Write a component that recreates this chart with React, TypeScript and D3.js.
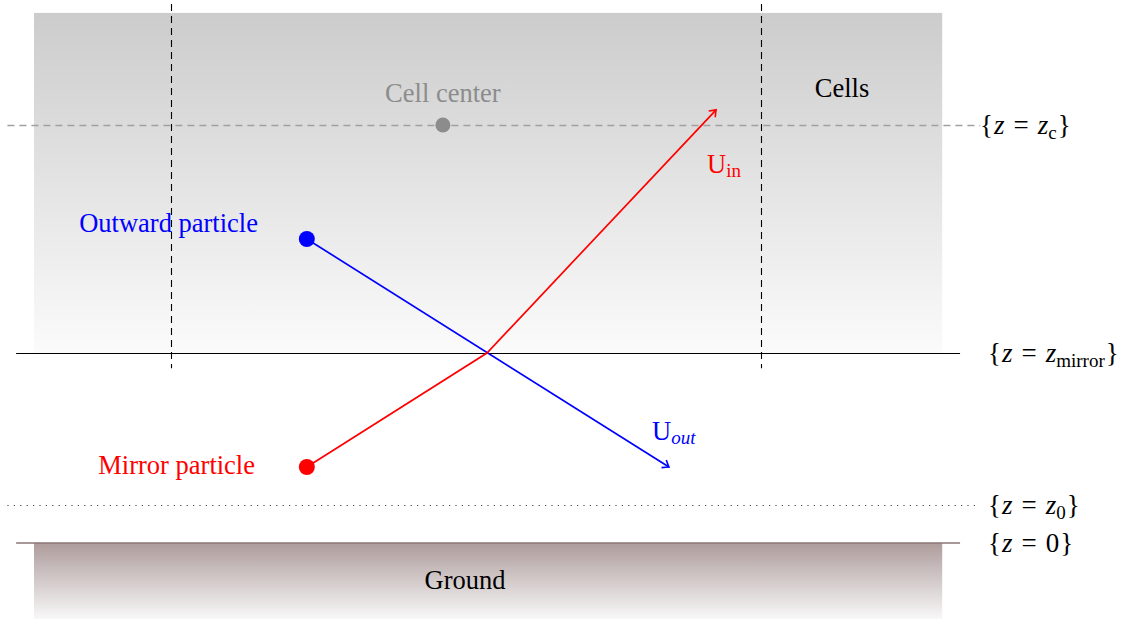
import { useEffect } from 'react';
import * as d3 from 'd3';

// Diagram coordinates: x and z in diagram units (z = height above ground)
const LEVELS = [
  { key: 'zc', z: 11, sub: 'c', text: 'z', labelX: 980 },
  { key: 'mirror', z: 5, sub: 'mirror', text: 'z', labelX: 988 },
  { key: 'z0', z: 1, sub: '0', text: 'z', labelX: 988 },
  { key: 'ground', z: 0, sub: '', text: '0', labelX: 988 },
];
const CELL_BOX = { x0: 0, x1: 23.9, z0: 5, z1: 13.95 };
const GROUND_BOX = { x0: 0, x1: 23.9, z0: 0, z1: -2 };
const CELL_WALLS = [3.605, 19.13];
const CELL_CENTER = { x: 10.76, z: 11 };
const OUTWARD = { x: 7.18, z: 8 };
const MIRROR = { x: 7.18, z: 2 };
const HIT = { x: 11.92, z: 5 };
const U_IN_END = { x: 17.95, z: 11.4 };
const U_OUT_END = { x: 16.71, z: 2 };

const W = 1131;
const H = 619;

const x = d3.scaleLinear().domain([0, 1]).range([34, 72]);
const y = d3.scaleLinear().domain([0, 1]).range([543, 505]);

const FONT = '"Liberation Serif", "DejaVu Serif", serif';
const FS = 26.5;

export default function App() {
  useEffect(() => {
    document.body.style.margin = '0';
  }, []);

  const lineStart = -0.47;
  const lineEnd = 24.37;

  return (
    <svg width={W} height={H} style={{ display: 'block', fontFamily: FONT }}>
      <defs>
        <linearGradient id="cells" x1="0" y1="0" x2="0" y2="1">
          <stop offset="0%" stopColor="#cccccc" />
          <stop offset="100%" stopColor="#fbfbfb" />
        </linearGradient>
        <linearGradient id="ground" x1="0" y1="0" x2="0" y2="1">
          <stop offset="0%" stopColor="#ae9c9c" />
          <stop offset="100%" stopColor="#f8f8f8" />
        </linearGradient>
        <marker id="arrRed" viewBox="-8 -6 10 12" markerWidth="10" markerHeight="12" refX="0" refY="0"
          orient="auto" markerUnits="userSpaceOnUse">
          <path d="M-6,-4.5 Q-2,-1.2 0,0 Q-2,1.2 -6,4.5" fill="none" stroke="#ff0000" strokeWidth="1.6" />
        </marker>
        <marker id="arrBlue" viewBox="-8 -6 10 12" markerWidth="10" markerHeight="12" refX="0" refY="0"
          orient="auto" markerUnits="userSpaceOnUse">
          <path d="M-6,-4.5 Q-2,-1.2 0,0 Q-2,1.2 -6,4.5" fill="none" stroke="#0000ff" strokeWidth="1.6" />
        </marker>
      </defs>

      {/* cells region */}
      <rect x={x(CELL_BOX.x0)} y={y(CELL_BOX.z1)} width={x(CELL_BOX.x1) - x(CELL_BOX.x0)}
        height={y(CELL_BOX.z0) - y(CELL_BOX.z1)} fill="url(#cells)" />
      {/* ground region */}
      <rect x={x(GROUND_BOX.x0)} y={y(GROUND_BOX.z0)} width={x(GROUND_BOX.x1) - x(GROUND_BOX.x0)}
        height={y(GROUND_BOX.z1) - y(GROUND_BOX.z0)} fill="url(#ground)" />

      {/* cell walls */}
      {CELL_WALLS.map(w => (
        <line key={w} x1={Math.round(x(w)) + 0.5} x2={Math.round(x(w)) + 0.5} y1={y(14.5)} y2={y(4.6)}
          stroke="#000" strokeWidth={1.1} strokeDasharray="7,5" />
      ))}

      {/* horizontal levels */}
      <line x1={x(-0.7)} x2={x(24.9)} y1={y(11) + 0.5} y2={y(11) + 0.5} stroke="#a0a0a0" strokeWidth={1.3}
        strokeDasharray="7,5" />
      <line x1={x(lineStart)} x2={x(lineEnd)} y1={y(5) + 0.5} y2={y(5) + 0.5} stroke="#000" strokeWidth={1.1} />
      <line x1={x(-0.7)} x2={x(24.9)} y1={y(1) + 0.5} y2={y(1) + 0.5} stroke="#444" strokeWidth={1.2}
        strokeDasharray="1.2,5.2" />
      <line x1={x(lineStart)} x2={x(lineEnd)} y1={y(0)} y2={y(0)} stroke="#8c7676" strokeWidth={1.5} />

      {/* level labels */}
      {LEVELS.map(l => (
        <text key={l.key} x={l.labelX} y={y(l.z) + 9} fontSize={27} fill="#000">
          <tspan>{'{'}</tspan>
          <tspan fontStyle="italic" dx="1">z</tspan>
          <tspan dx="9">=</tspan>
          {l.text === 'z' ? (
            <>
              <tspan fontStyle="italic" dx="9">z</tspan>
              <tspan fontSize={19} dy="5">{l.sub}</tspan>
              <tspan dy="-5" dx="1">{'}'}</tspan>
            </>
          ) : (
            <>
              <tspan dx="9">0</tspan>
              <tspan dx="1">{'}'}</tspan>
            </>
          )}
        </text>
      ))}

      {/* cell center */}
      <circle cx={x(CELL_CENTER.x)} cy={y(CELL_CENTER.z)} r={7.5} fill="#8c8c8c" />
      <text x={x(CELL_CENTER.x)} y={102} textAnchor="middle" fontSize={FS} fill="#8c8c8c">Cell center</text>
      <text x={842} y={97} textAnchor="middle" fontSize={FS} fill="#000">Cells</text>
      <text x={465} y={589} textAnchor="middle" fontSize={FS} fill="#000">Ground</text>

      {/* velocity paths */}
      <path d={d3.line()([[x(OUTWARD.x), y(OUTWARD.z)], [x(U_OUT_END.x), y(U_OUT_END.z)]])!}
        fill="none" stroke="#0000ff" strokeWidth={1.7} markerEnd="url(#arrBlue)" />
      <path d={d3.line()([[x(MIRROR.x), y(MIRROR.z)], [x(HIT.x), y(HIT.z)], [x(U_IN_END.x), y(U_IN_END.z)]])!}
        fill="none" stroke="#ff0000" strokeWidth={1.7} markerEnd="url(#arrRed)" />

      {/* particles */}
      <circle cx={x(OUTWARD.x)} cy={y(OUTWARD.z)} r={8} fill="#0000ff" />
      <circle cx={x(MIRROR.x)} cy={y(MIRROR.z)} r={8} fill="#ff0000" />
      <text x={258} y={232} textAnchor="end" fontSize={FS} fill="#0000ff">Outward particle</text>
      <text x={255} y={474} textAnchor="end" fontSize={FS} fill="#ff0000">Mirror particle</text>

      {/* velocity labels */}
      <text x={707} y={173} fontSize={FS} fill="#ff0000">
        <tspan>U</tspan>
        <tspan fontSize={19} dy="4">in</tspan>
      </text>
      <text x={652} y={440} fontSize={FS} fill="#0000ff">
        <tspan>U</tspan>
        <tspan fontSize={19} dy="4" fontStyle="italic">out</tspan>
      </text>
    </svg>
  );
}
